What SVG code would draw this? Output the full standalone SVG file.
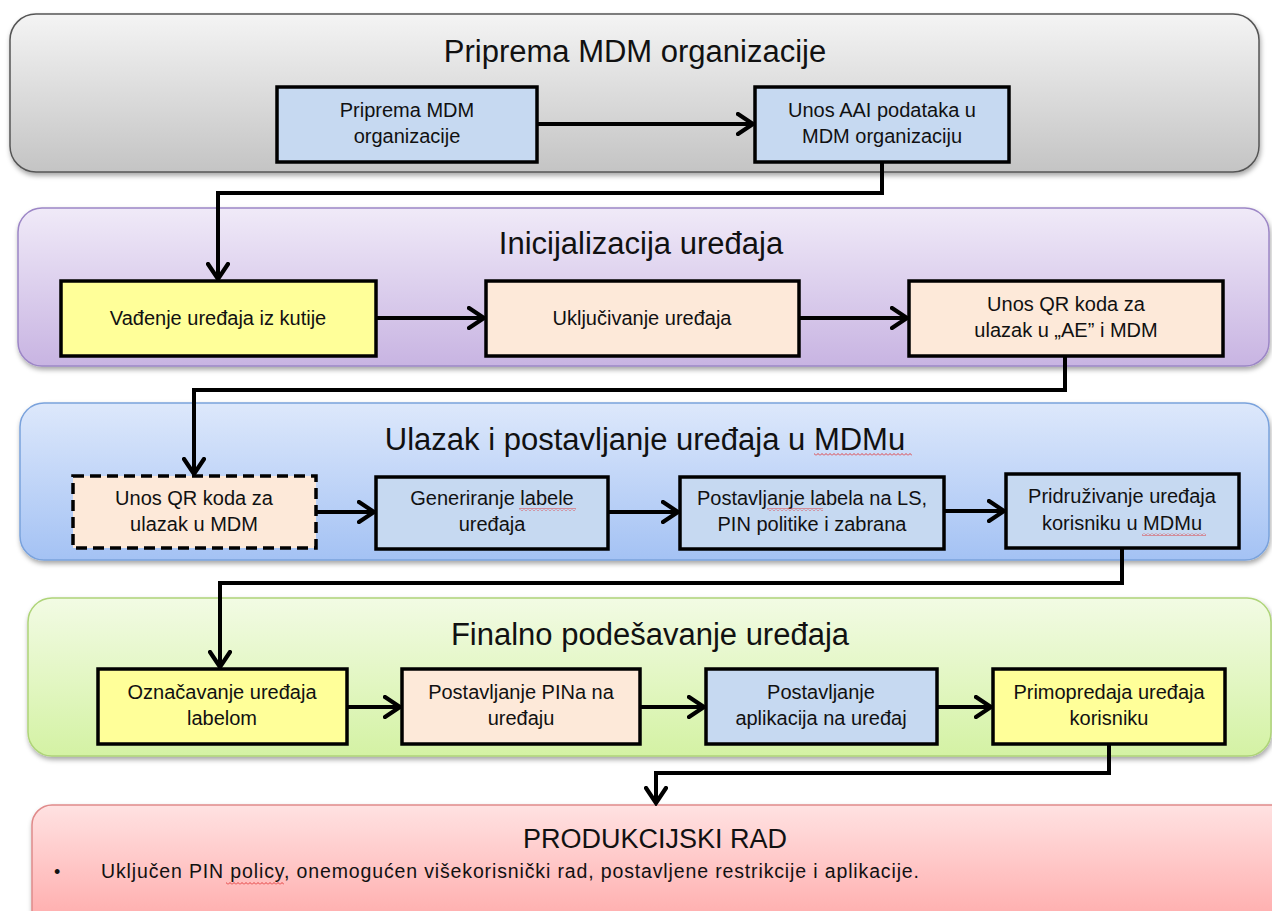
<svg xmlns="http://www.w3.org/2000/svg" width="1272" height="911" viewBox="0 0 1272 911">
<defs>
<linearGradient id="gGray" x1="0" y1="0" x2="0" y2="1"><stop offset="0" stop-color="#f4f4f4"/><stop offset="1" stop-color="#c4c4c4"/></linearGradient>
<linearGradient id="gPurple" x1="0" y1="0" x2="0" y2="1"><stop offset="0" stop-color="#f0eaf8"/><stop offset="1" stop-color="#c8b4e2"/></linearGradient>
<linearGradient id="gBlue" x1="0" y1="0" x2="0" y2="1"><stop offset="0" stop-color="#dde8fb"/><stop offset="1" stop-color="#a4c2f4"/></linearGradient>
<linearGradient id="gGreen" x1="0" y1="0" x2="0" y2="1"><stop offset="0" stop-color="#f2fbe4"/><stop offset="1" stop-color="#d4f2a4"/></linearGradient>
<linearGradient id="gRed" x1="0" y1="0" x2="0" y2="1"><stop offset="0" stop-color="#ffe2e2"/><stop offset="1" stop-color="#ffa6a6"/></linearGradient>
<filter id="sh" x="-5%" y="-10%" width="110%" height="130%"><feDropShadow dx="1" dy="3" stdDeviation="2.5" flood-color="#000" flood-opacity="0.35"/></filter>
<marker id="arr" viewBox="0 0 20 24" refX="17" refY="12" markerWidth="20" markerHeight="24" markerUnits="userSpaceOnUse" orient="auto">
<path d="M2,2 L17,12 L2,22" fill="none" stroke="#000" stroke-width="4.2" stroke-linecap="round" stroke-linejoin="miter"/>
</marker>
<pattern id="sqp" width="4" height="3" patternUnits="userSpaceOnUse">
<path d="M0,2.5 L2,0.5 L4,2.5" fill="none" stroke="#e03030" stroke-width="0.9"/>
</pattern>
</defs>
<style>
.panel{filter:url(#sh);stroke-width:1.5}
.ptitle{font-family:"Liberation Sans","Noto Sans",sans-serif;font-size:31px;fill:#111;text-anchor:middle}
.box{stroke:#000;stroke-width:3.5}
.blue{fill:#c6d9f1}
.peach{fill:#fde9d9}
.yellow{fill:#ffff99}
.btxt{font-family:"Liberation Sans","Noto Sans",sans-serif;font-size:20px;fill:#111;text-anchor:middle}
.conn{fill:none;stroke:#000;stroke-width:4}
.sq{fill:url(#sqp)}
</style>

<g id="panel-priprema">
<rect class="panel" x="10" y="14" width="1249" height="158" rx="26" fill="url(#gGray)" stroke="#555"/>
<text class="ptitle" x="635" y="62">Priprema MDM organizacije</text>
</g>
<g id="panel-inicijalizacija">
<rect class="panel" x="18" y="208" width="1251" height="158" rx="24" fill="url(#gPurple)" stroke="#9c86c6"/>
<text class="ptitle" x="641" y="254">Inicijalizacija uređaja</text>
</g>
<g id="panel-ulazak">
<rect class="panel" x="20" y="403" width="1249" height="157" rx="24" fill="url(#gBlue)" stroke="#7aa2dc"/>
<text class="ptitle" x="645" y="450">Ulazak i postavljanje uređaja u MDMu</text>
<rect class="sq" x="814" y="453" width="98" height="3"/>
</g>
<g id="panel-finalno">
<rect class="panel" x="28" y="598" width="1243" height="158" rx="24" fill="url(#gGreen)" stroke="#aed478"/>
<text class="ptitle" x="650" y="645">Finalno podešavanje uređaja</text>
</g>
<g id="panel-produkcijski">
<rect class="panel" x="32" y="805" width="1262" height="130" rx="20" fill="url(#gRed)" stroke="#e08a8a"/>
<text class="ptitle" x="655" y="848" style="font-size:27px">PRODUKCIJSKI RAD</text>
<text x="54" y="878" style="font-family:'Liberation Sans',sans-serif;font-size:18px;fill:#111">•</text>
<text x="101" y="878" textLength="818" lengthAdjust="spacing" style="font-family:'Liberation Sans','Noto Sans',sans-serif;font-size:19.5px;fill:#111">Uključen PIN policy, onemogućen višekorisnički rad, postavljene restrikcije i aplikacije.</text>
<rect class="sq" x="226" y="882" width="58" height="3"/>
</g>

<g id="connectors">
<line class="conn" x1="537" y1="124" x2="753" y2="124" marker-end="url(#arr)"/>
<polyline class="conn" points="882,162 882,193 218,193 218,279" marker-end="url(#arr)"/>
<line class="conn" x1="376" y1="318" x2="484" y2="318" marker-end="url(#arr)"/>
<line class="conn" x1="799" y1="318" x2="907" y2="318" marker-end="url(#arr)"/>
<polyline class="conn" points="1065,356 1065,390 194,390 194,474" marker-end="url(#arr)"/>
<line class="conn" x1="316" y1="512" x2="374" y2="512" marker-end="url(#arr)"/>
<line class="conn" x1="608" y1="512" x2="678" y2="512" marker-end="url(#arr)"/>
<line class="conn" x1="944" y1="511" x2="1004" y2="511" marker-end="url(#arr)"/>
<polyline class="conn" points="1122,548 1122,583 220,583 220,667" marker-end="url(#arr)"/>
<line class="conn" x1="347" y1="707" x2="400" y2="707" marker-end="url(#arr)"/>
<line class="conn" x1="640" y1="707" x2="704" y2="707" marker-end="url(#arr)"/>
<line class="conn" x1="937" y1="707" x2="991" y2="707" marker-end="url(#arr)"/>
<polyline class="conn" points="1109,744 1109,773 656,773 656,803" marker-end="url(#arr)"/>
</g>

<g id="n-priprema">
<rect class="box blue" x="277" y="87" width="260" height="75"/>
<text class="btxt" x="407" y="117">Priprema MDM</text>
<text class="btxt" x="407" y="143">organizacije</text>
</g>
<g id="n-unos-aai">
<rect class="box blue" x="755" y="87" width="254" height="75"/>
<text class="btxt" x="882" y="117">Unos AAI podataka u</text>
<text class="btxt" x="882" y="143">MDM organizaciju</text>
</g>
<g id="n-vadjenje">
<rect class="box yellow" x="61" y="281" width="315" height="75"/>
<text class="btxt" x="218" y="325">Vađenje uređaja iz kutije</text>
</g>
<g id="n-ukljucivanje">
<rect class="box peach" x="486" y="281" width="313" height="75"/>
<text class="btxt" x="642" y="325">Uključivanje uređaja</text>
</g>
<g id="n-unos-qr-ae">
<rect class="box peach" x="909" y="281" width="314" height="75"/>
<text class="btxt" x="1066" y="311">Unos QR koda za</text>
<text class="btxt" x="1066" y="337">ulazak u „AE” i MDM</text>
</g>
<g id="n-unos-qr-mdm">
<rect x="73" y="476" width="243" height="72" fill="#fde9d9" stroke="#000" stroke-width="3.5" stroke-dasharray="11,6"/>
<text class="btxt" x="194" y="505">Unos QR koda za</text>
<text class="btxt" x="194" y="531">ulazak u MDM</text>
</g>
<g id="n-generiranje">
<rect class="box blue" x="376" y="477" width="232" height="72"/>
<text class="btxt" x="492" y="505">Generiranje labele</text>
<text class="btxt" x="492" y="531">uređaja</text>
<rect class="sq" x="519" y="508" width="57" height="3"/>
</g>
<g id="n-postavljanje-labela">
<rect class="box blue" x="680" y="477" width="264" height="72"/>
<text class="btxt" x="812" y="505">Postavljanje labela na LS,</text>
<text class="btxt" x="812" y="531">PIN politike i zabrana</text>
<rect class="sq" x="767" y="508" width="56" height="3"/>
</g>
<g id="n-pridruzivanje">
<rect class="box blue" x="1006" y="474" width="233" height="74"/>
<text class="btxt" x="1122" y="503">Pridruživanje uređaja</text>
<text class="btxt" x="1122" y="530">korisniku u MDMu</text>
<rect class="sq" x="1142" y="533" width="64" height="3"/>
</g>
<g id="n-oznacavanje">
<rect class="box yellow" x="98" y="669" width="249" height="75"/>
<text class="btxt" x="222" y="699">Označavanje uređaja</text>
<text class="btxt" x="222" y="725">labelom</text>
</g>
<g id="n-postavljanje-pina">
<rect class="box peach" x="402" y="669" width="238" height="75"/>
<text class="btxt" x="521" y="699">Postavljanje PINa na</text>
<text class="btxt" x="521" y="725">uređaju</text>
</g>
<g id="n-postavljanje-aplikacija">
<rect class="box blue" x="706" y="669" width="231" height="75"/>
<text class="btxt" x="821" y="699">Postavljanje</text>
<text class="btxt" x="821" y="725">aplikacija na uređaj</text>
</g>
<g id="n-primopredaja">
<rect class="box yellow" x="993" y="669" width="232" height="75"/>
<text class="btxt" x="1109" y="699">Primopredaja uređaja</text>
<text class="btxt" x="1109" y="725">korisniku</text>
</g>
</svg>
